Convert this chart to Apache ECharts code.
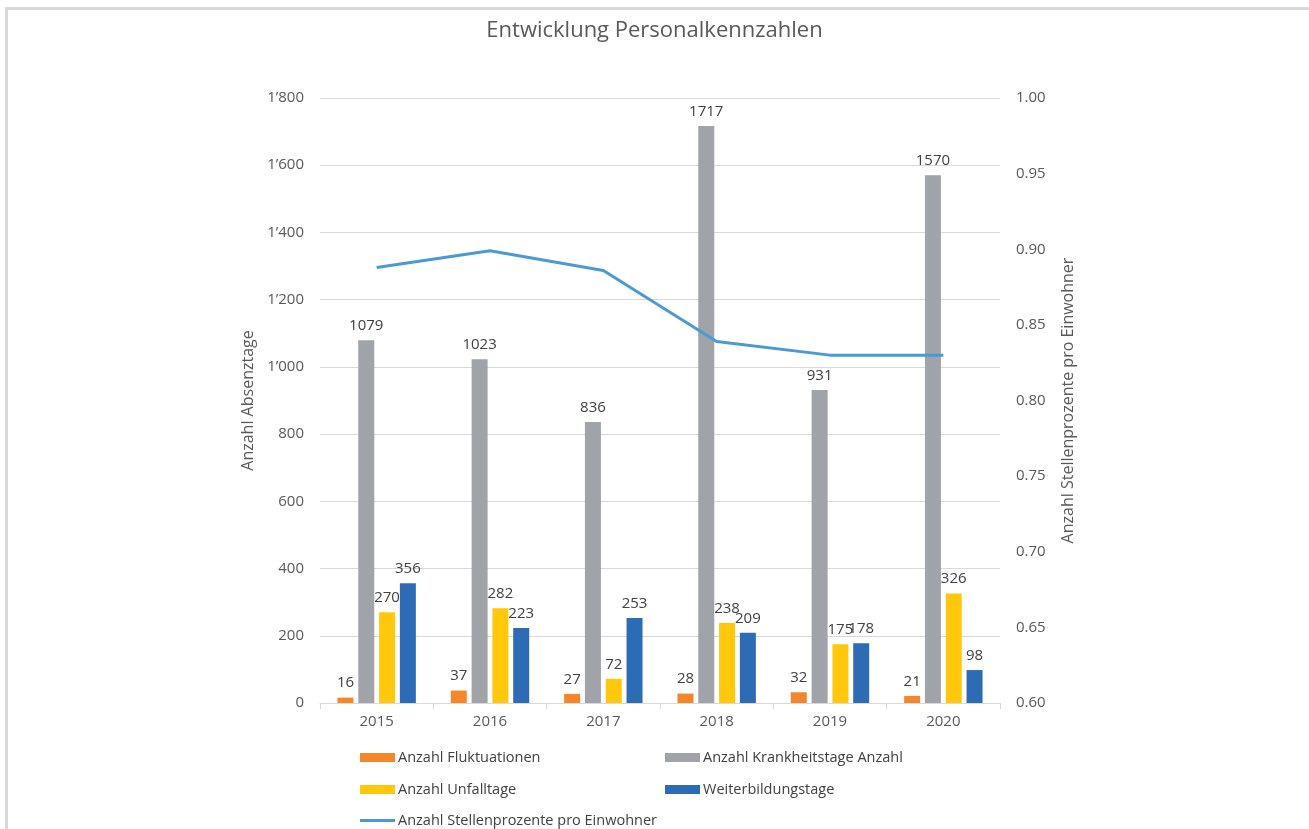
<!DOCTYPE html>
<html>
<head>
<meta charset="utf-8">
<script src="https://cdn.jsdelivr.net/npm/echarts@6/dist/echarts.min.js"></script>
<style>
  html, body { margin: 0; padding: 0; background: #fff; }
  #frame {
    position: absolute; left: 5px; top: 7px; right: 0; bottom: 0;
    border-left: 3px solid #d9d9d9; border-top: 3px solid #d9d9d9;
  }
  #chart { position: absolute; left: 0; top: 0; width: 1309px; height: 829px; }
</style>
</head>
<body>
<div id="frame"></div>
<div id="chart"></div>
<script>
const years = ['2015', '2016', '2017', '2018', '2019', '2020']
const fluktuationen = [16, 37, 27, 28, 32, 21]
const krankheitstage = [1079, 1023, 836, 1717, 931, 1570]
const unfalltage = [270, 282, 72, 238, 175, 326]
const weiterbildung = [356, 223, 253, 209, 178, 98]
const stellenprozente = [0.888, 0.899, 0.886, 0.839, 0.830, 0.830]

const font = 'Open Sans'
const chart = echarts.init(document.getElementById('chart'))

const barLabel = {
  show: true,
  position: 'top',
  distance: 7,
  color: '#404040',
  fontSize: 15,
  fontFamily: font
}

function bar(name, data, color) {
  return {
    name: name,
    type: 'bar',
    data: data,
    barWidth: 16,
    barGap: '30%',
    itemStyle: { color: color },
    label: barLabel
  }
}

// one legend per entry so they can sit in the two-column layout
function legendAt(name, left, top, icon, h) {
  return {
    data: [name],
    left: left,
    top: top,
    icon: icon || 'rect',
    itemWidth: 35,
    itemHeight: h || 9,
    itemGap: 0,
    padding: 0,
    textStyle: { color: '#404040', fontSize: 14.5, fontFamily: font, padding: [0, 0, 0, -2] }
  }
}

chart.setOption({
  animation: false,
  title: {
    text: 'Entwicklung Personalkennzahlen',
    left: 'center',
    top: 15,
    textStyle: { color: '#595959', fontSize: 22, fontWeight: 'normal', fontFamily: font }
  },
  grid: { left: 320, right: 309, top: 98, bottom: 126 },
  legend: [
    legendAt('Anzahl Fluktuationen', 360, 750),
    legendAt('Anzahl Krankheitstage Anzahl', 665, 750),
    legendAt('Anzahl Unfalltage', 360, 782),
    legendAt('Weiterbildungstage', 665, 782),
    legendAt('Anzahl Stellenprozente pro Einwohner', 360, 813, 'path://M0,0H35V3H0Z', 3)
  ],
  xAxis: {
    type: 'category',
    data: years,
    axisLine: { lineStyle: { color: '#d9d9d9' } },
    axisTick: { show: true, length: 6, lineStyle: { color: '#d9d9d9' } },
    axisLabel: { color: '#595959', fontSize: 15, fontFamily: font, margin: 11 }
  },
  yAxis: [
    {
      type: 'value',
      min: 0,
      max: 1800,
      interval: 200,
      name: 'Anzahl Absenztage',
      nameLocation: 'middle',
      nameGap: 59,
      nameTextStyle: { color: '#595959', fontSize: 16, fontFamily: font },
      axisLabel: {
        color: '#595959', fontSize: 15, fontFamily: font, margin: 16,
        formatter: v => String(v).replace(/\B(?=(\d{3})+(?!\d))/g, '\u2019')
      },
      splitLine: { lineStyle: { color: '#d9d9d9' } }
    },
    {
      type: 'value',
      min: 0.6,
      max: 1.0,
      interval: 0.05,
      name: 'Anzahl Stellenprozente pro Einwohner',
      nameLocation: 'middle',
      nameGap: 60,
      nameRotate: 90,
      nameTextStyle: { color: '#595959', fontSize: 16, fontFamily: font },
      axisLabel: {
        color: '#595959', fontSize: 15, fontFamily: font, margin: 16,
        formatter: v => v.toFixed(2)
      },
      splitLine: { show: false }
    }
  ],
  series: [
    bar('Anzahl Fluktuationen', fluktuationen, '#f5872a'),
    bar('Anzahl Krankheitstage Anzahl', krankheitstage, '#a0a3a7'),
    bar('Anzahl Unfalltage', unfalltage, '#ffc80c'),
    bar('Weiterbildungstage', weiterbildung, '#2d6cb4'),
    {
      name: 'Anzahl Stellenprozente pro Einwohner',
      type: 'line',
      yAxisIndex: 1,
      data: stellenprozente,
      symbol: 'none',
      lineStyle: { color: '#4a9ad6', width: 3 },
      itemStyle: { color: '#4a9ad6' }
    }
  ]
})
</script>
</body>
</html>
